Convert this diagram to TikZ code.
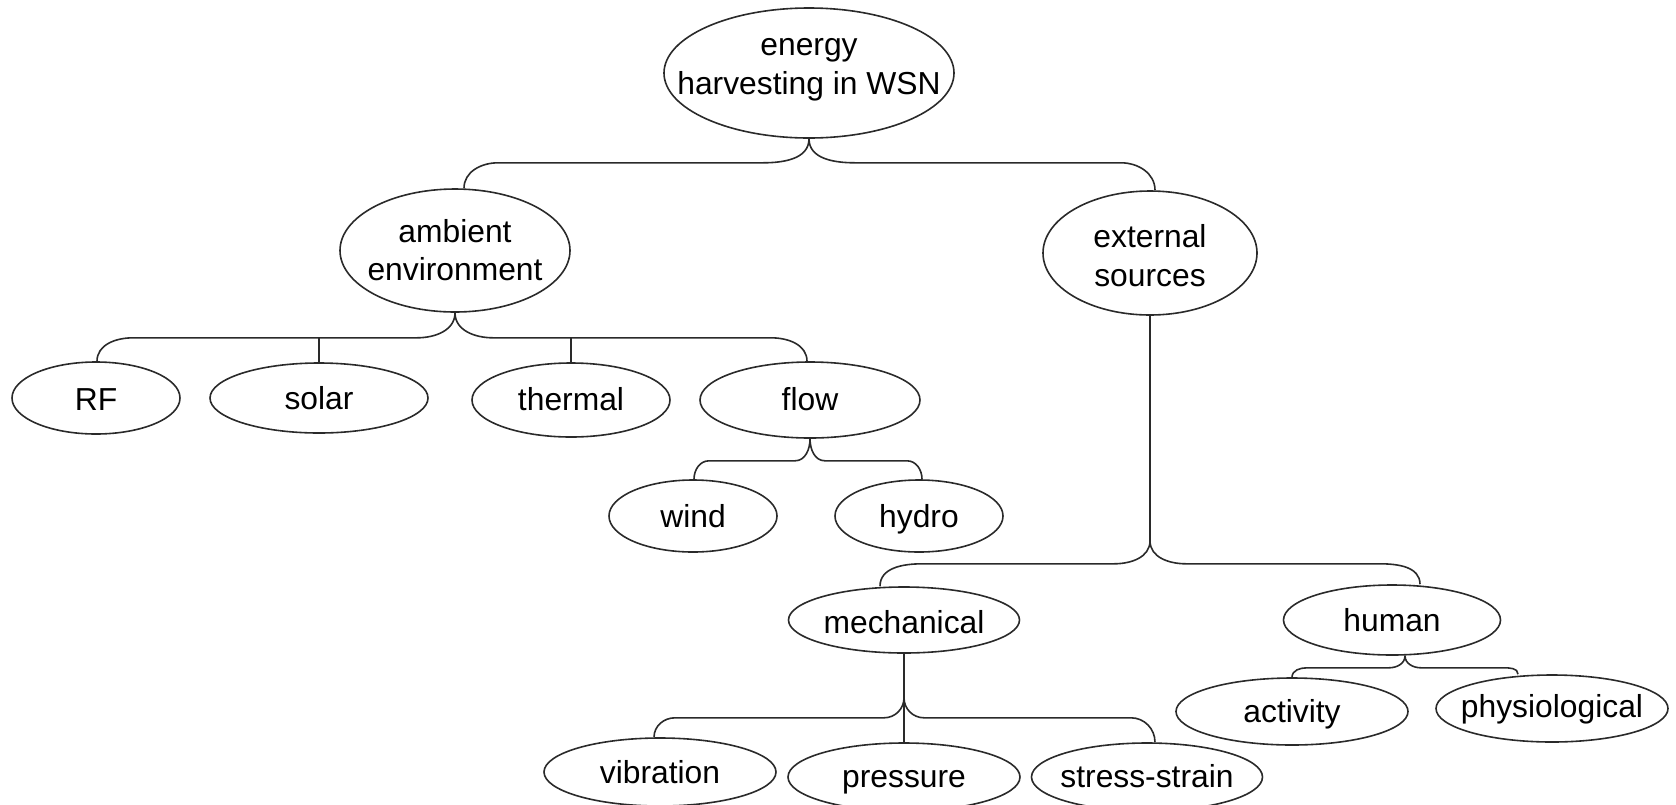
\documentclass[tikz,border=0pt]{standalone}
\usepackage{fontspec}
\setmainfont{Liberation Sans}
\usetikzlibrary{shapes.geometric,calc}
\definecolor{linec}{HTML}{2A2A2A}
% brace connectors: {parent point}{child point}{drop to level}{curve height}{cusp width}{end width}
\newcommand\bracel[6]{\draw[conn] (#1) -- ($(#1)+(0,#3-#4)$) to[out=-90,in=0] ($(#1)+(-#5,#3)$)
  -- ($(#2 |- #1)+(#6,#3)$) to[out=180,in=90] (#2);}
\newcommand\bracer[6]{\draw[conn] (#1) -- ($(#1)+(0,#3-#4)$) to[out=-90,in=180] ($(#1)+(#5,#3)$)
  -- ($(#2 |- #1)+(-#6,#3)$) to[out=0,in=90] (#2);}
\begin{document}
\begin{tikzpicture}[x=0.5pt,y=-0.5pt,font=\fontsize{15.9}{19.5}\selectfont]
\tikzset{
  txt/.style={inner sep=0pt, text=black, text height=0pt, text depth=0pt},
  ell/.style n args={2}{draw=linec, line width=0.8pt, ellipse, inner sep=0pt,
      minimum width=#1pt, minimum height=#2pt},
  % text line: {text}{baseline below centre, in px}
  tl/.style n args={2}{label={[txt,yshift={-0.5pt*(#2)}]center:#1}},
  conn/.style={draw=linec, line width=0.8pt}
}
\clip (0,0) rectangle (1676,804);
% nodes
\node[ell={145}{65}, tl={energy}{-18}, tl={harvesting in WSN}{21}] (root) at (809,73) {};
\node[ell={115}{61.5}, tl={ambient}{-8.5}, tl={environment}{29.5}] (amb) at (455,250.5) {};
\node[ell={107}{62}, tl={external}{-6}, tl={sources}{33}] (ext) at (1150,253) {};
\node[ell={84}{36}, tl={RF}{12}] (rf) at (96,398) {};
\node[ell={109}{35}, tl={solar}{11}] (solar) at (319,398) {};
\node[ell={99}{37}, tl={thermal}{10}] (thermal) at (571,400) {};
\node[ell={110}{38}, tl={flow}{10}] (flow) at (810,400) {};
\node[ell={84}{36}, tl={wind}{11}] (wind) at (693,516) {};
\node[ell={84}{36}, tl={hydro}{11}] (hydro) at (919,516) {};
\node[ell={115.5}{33}, tl={mechanical}{13}] (mech) at (904,620) {};
\node[ell={108.5}{35}, tl={human}{11}] (human) at (1392,620) {};
\node[ell={116}{33.5}, tl={activity}{10.5}] (activity) at (1292,711.5) {};
\node[ell={116}{33.5}, tl={physiological}{8.5}] (physio) at (1552,708.5) {};
\node[ell={116}{34}, tl={vibration}{11}] (vib) at (660,772) {};
\node[ell={116}{34}, tl={pressure}{10}] (pressure) at (904,777) {};
\node[ell={115.5}{34}, tl={stress-strain}{10}] (stress) at (1147,777) {};
% connector end points on the nodes
\coordinate (ambE) at ($(amb.north)+(9,0)$);
\coordinate (extE) at ($(ext.north)+(5,0)$);
\coordinate (rfE) at ($(rf.north)+(1,0)$);
\coordinate (flowE) at ($(flow.north)+(-3,0)$);
\coordinate (windE) at ($(wind.north)+(1,0)$);
\coordinate (hydroE) at ($(hydro.north)+(3,0)$);
\coordinate (mechE) at ($(mech.north)+(-24,0)$);
\coordinate (humanE) at ($(human.north)+(28,0)$);
\coordinate (humanS) at ($(human.south)+(13,0)$);
\coordinate (physioE) at ($(physio.north)+(-34,0)$);
\coordinate (vibE) at ($(vib.north)+(-6,0)$);
\coordinate (stressE) at ($(stress.north)+(8,0)$);
% connectors
\bracel{root.south}{ambE}{24}{24}{46}{34}
\bracer{root.south}{extE}{24}{24}{46}{34}
\bracel{amb.south}{rfE}{25}{25}{38}{36}
\bracer{amb.south}{flowE}{25}{25}{38}{36}
\coordinate (ajoin) at ($(amb.south)+(0,25)$);
\draw[conn] (solar.north) -- (solar.north |- ajoin);
\draw[conn] (thermal.north) -- (thermal.north |- ajoin);
\bracel{flow.south}{windE}{22}{22}{15}{15}
\bracer{flow.south}{hydroE}{22}{22}{15}{15}
\bracel{ext.south}{mechE}{248}{23}{36}{42}
\bracer{ext.south}{humanE}{248}{23}{36}{40}
\bracel{humanS}{activity.north}{12}{12}{16}{15}
\bracer{humanS}{physioE}{12}{12}{16}{15}
\bracel{mech.south}{vibE}{64}{20}{20}{21}
\bracer{mech.south}{stressE}{64}{20}{20}{24}
\draw[conn] (mech.south) -- (pressure.north);
\end{tikzpicture}
\end{document}
